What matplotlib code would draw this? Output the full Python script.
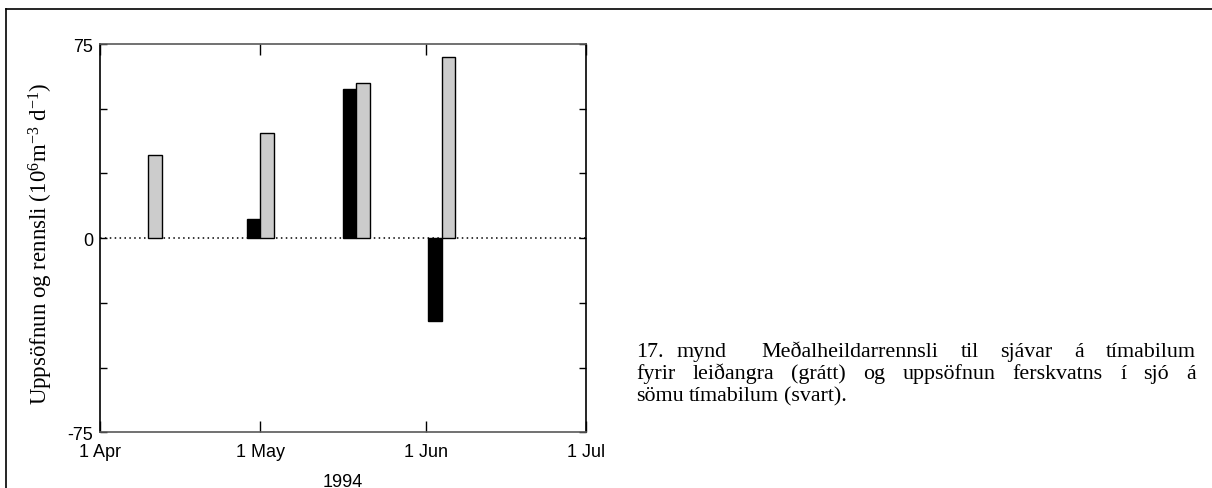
import numpy as np
import matplotlib
matplotlib.use('Agg')
import matplotlib.pyplot as plt
import matplotlib.dates as mdates
from matplotlib.lines import Line2D

# period boundaries: black bar sits left of the date, gray bar right of it
periods = np.array(['1994-04-10', '1994-05-01', '1994-05-19', '1994-06-04'], dtype='datetime64[h]')
accumulation = [np.nan, 7.3, 57.7, -32.1]   # uppsöfnun ferskvatns (svart)
runoff = [32.0, 40.6, 59.9, 70.0]            # meðalheildarrennsli (grátt)

xtick_dates = np.array(['1994-04-01', '1994-05-01', '1994-06-01', '1994-07-01'], dtype='datetime64[D]')
xtick_labels = ['1 Apr', '1 May', '1 Jun', '1 Jul']
ytick_vals = [-75, -50, -25, 0, 25, 50, 75]
ytick_labels = ['-75', '', '', '0', '', '', '75']

caption = [
    ['17.', 'mynd', 'Meðalheildarrennsli', 'til', 'sjávar', 'á', 'tímabilum'],
    ['fyrir', 'leiðangra', '(grátt)', 'og', 'uppsöfnun', 'ferskvatns', 'í', 'sjó', 'á'],
    ['sömu', 'tímabilum', '(svart).'],
]

plt.rcParams['mathtext.fontset'] = 'custom'
plt.rcParams['mathtext.rm'] = 'Liberation Serif'
plt.rcParams['mathtext.it'] = 'Liberation Serif:italic'

W, H = 1212, 489
fig = plt.figure(figsize=(W / 100, H / 100), dpi=100)

def fx(px):
    return px / W

def fy(py):
    return 1 - py / H

# frame lines (top and left)
fig.add_artist(Line2D([fx(6), 1], [fy(10), fy(10)], color='black', lw=1.2))
fig.add_artist(Line2D([fx(6), fx(6)], [fy(10), 0], color='black', lw=1.2))

ax = fig.add_axes([fx(100), fy(433.3), fx(586) - fx(100), fy(45) - fy(433.3)])

x = mdates.date2num(periods.astype('datetime64[s]').astype(object))
width = 2.55
ax.bar(x, accumulation, width=-width, align='edge', color='black', edgecolor='black', lw=1, zorder=3)
ax.bar(x, runoff, width=width, align='edge', color='#cccccc', edgecolor='black', lw=1, zorder=3)

ax.axhline(0, color='black', lw=1.1, linestyle=(0, (1, 2.2)), zorder=2)

xt = mdates.date2num(xtick_dates.astype('datetime64[s]').astype(object))
ax.set_xlim(xt[0], xt[-1])
ax.set_ylim(-75, 75)
ax.set_xticks(xt)
ax.set_xticklabels(xtick_labels)
ax.set_yticks(ytick_vals)
ax.set_yticklabels(ytick_labels)

for lab in ax.get_xticklabels() + ax.get_yticklabels():
    lab.set_fontfamily('Liberation Sans')
    lab.set_fontsize(13)

ax.tick_params(axis='x', direction='in', length=8, width=1, top=True, pad=8)
ax.tick_params(axis='y', direction='in', length=5, width=1, right=True, pad=5)

for side in ['left', 'right']:
    ax.spines[side].set_linewidth(1.2)
for side in ['top', 'bottom']:
    ax.spines[side].set_linewidth(1.2)
    ax.spines[side].set_color('0.35')

ax.set_xlabel('1994', fontfamily='Liberation Sans', fontsize=13, labelpad=9)

fig.text(fx(41), fy(244), r'Uppsöfnun og rennsli (10$^{6}$m$^{-3}$ d$^{-1}$)',
         rotation=90, ha='center', va='center', fontfamily='Liberation Serif', fontsize=16.5)

# justified caption to the right of the chart (wide gap after "mynd")
renderer = fig.canvas.get_renderer()
left, right = 636, 1196
baselines = [357, 379, 401]
gap_weights = [[0.6, 1.6, 1, 1, 1, 1], None, None]
for i, words in enumerate(caption):
    items = [fig.text(0, 0, w, fontfamily='Liberation Serif', fontsize=15.8, va='baseline')
             for w in words]
    widths = [t.get_window_extent(renderer).width for t in items]
    weights = gap_weights[i] or [1] * (len(words) - 1)
    if i == len(caption) - 1:
        gap = 5.0
    else:
        gap = (right - left - sum(widths)) / sum(weights)
    pos = left
    for j, (t, w) in enumerate(zip(items, widths)):
        t.set_position((fx(pos), fy(baselines[i])))
        if j < len(weights):
            pos += w + gap * weights[j]

fig.savefig('out.png', dpi=100)
